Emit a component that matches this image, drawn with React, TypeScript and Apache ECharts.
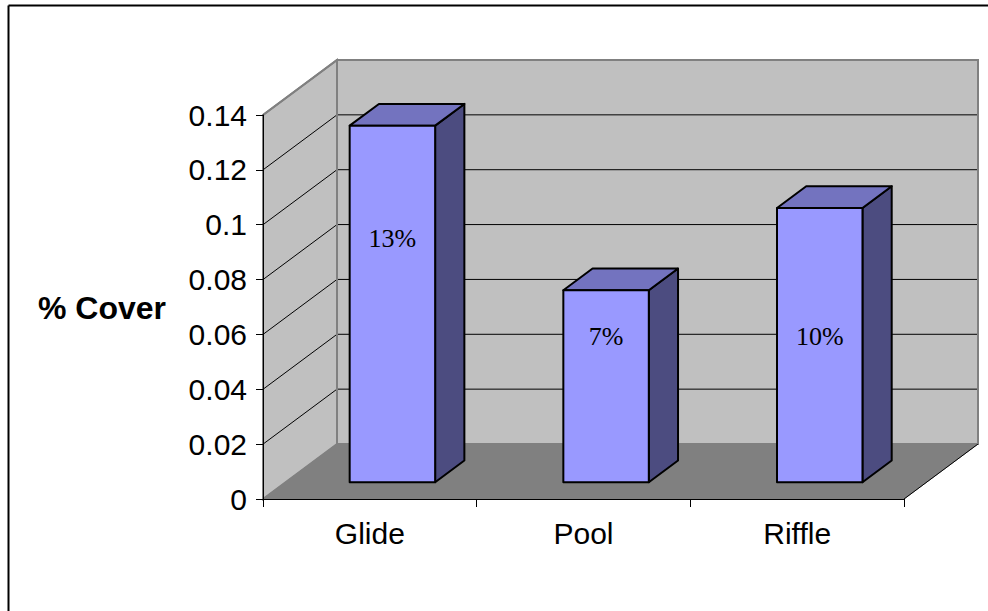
import React, { useEffect, useRef } from "react";
import * as echarts from "echarts";

// ---- data ----
const categories = ["Glide", "Pool", "Riffle"];
const coverValues = [0.13, 0.07, 0.1];
const yTicks = [0, 0.02, 0.04, 0.06, 0.08, 0.1, 0.12, 0.14];
// value level (on the bar's face) at which each data label is drawn
const labelLevels = [0.0887, 0.0533, 0.0533];

// ---- 3D look ----
const DX = 74; // depth offset of the back wall, px
const DY = -55;
const D0 = 0.305; // bar front depth fraction
const D1 = 0.7; // bar back depth fraction
const BAR_W = 0.4; // fraction of category width

const WALL = "#C0C0C0";
const FLOOR = "#808080";
const EDGE = "#808080";
const FRONT = "#9999FF";
const TOP = "#7373BF";
const SIDE = "#4C4C80";

export default function App() {
  const ref = useRef<HTMLDivElement>(null);

  useEffect(() => {
    if (!ref.current) return;
    const chart = echarts.init(ref.current, null, { renderer: "svg" });

    const option: any = {
      animation: false,
      backgroundColor: "#FFFFFF",
      grid: { left: 263, top: 115, width: 641, height: 384, containLabel: false },
      xAxis: {
        type: "category",
        data: categories,
        z: 5,
        axisLine: { show: true, lineStyle: { color: "#000", width: 1 } },
        axisTick: { show: true, length: 8, lineStyle: { color: "#000", width: 1 } },
        axisLabel: {
          color: "#000",
          fontSize: 30,
          fontFamily: "Arial, 'Liberation Sans', sans-serif",
          margin: 19,
        },
        splitLine: { show: false },
      },
      yAxis: {
        type: "value",
        min: 0,
        max: 0.14,
        interval: 0.02,
        z: 5,
        axisLine: { show: true, lineStyle: { color: "#000", width: 1 } },
        axisTick: { show: true, length: 7, lineStyle: { color: "#000", width: 1 } },
        axisLabel: {
          color: "#000",
          fontSize: 30,
          fontFamily: "Arial, 'Liberation Sans', sans-serif",
          margin: 16,
        },
        splitLine: { show: false },
      },
      graphic: [
        {
          type: "line",
          shape: { x1: 8.5, y1: 5.5, x2: 8.5, y2: 700 },
          style: { stroke: "#000", lineWidth: 2 },
        },
        {
          type: "line",
          shape: { x1: 8.5, y1: 5.5, x2: 1200, y2: 5.5 },
          style: { stroke: "#000", lineWidth: 2 },
        },
        {
          type: "text",
          x: 102,
          y: 308,
          style: {
            text: "% Cover",
            font: "bold 32px Arial, 'Liberation Sans', sans-serif",
            fill: "#000",
            textAlign: "center",
            textVerticalAlign: "middle",
          },
        },
      ],
      series: [
        {
          type: "custom",
          name: "walls",
          z: 1,
          silent: true,
          data: [0],
          renderItem: (params: any, api: any) => {
            const cs = params.coordSys;
            const x0 = cs.x;
            const x1 = cs.x + cs.width;
            const yT = cs.y;
            const yB = cs.y + cs.height;
            const children: any[] = [];
            // back wall
            children.push({
              type: "polygon",
              shape: {
                points: [
                  [x0 + DX, yT + DY],
                  [x1 + DX, yT + DY],
                  [x1 + DX, yB + DY],
                  [x0 + DX, yB + DY],
                ],
              },
              style: { fill: WALL, stroke: EDGE, lineWidth: 2 },
            });
            // left wall
            children.push({
              type: "polygon",
              shape: {
                points: [
                  [x0, yB],
                  [x0, yT],
                  [x0 + DX, yT + DY],
                  [x0 + DX, yB + DY],
                ],
              },
              style: { fill: WALL, stroke: EDGE, lineWidth: 2 },
            });
            // floor
            children.push({
              type: "polygon",
              shape: {
                points: [
                  [x0, yB],
                  [x0 + DX, yB + DY],
                  [x1 + DX, yB + DY],
                  [x1, yB],
                ],
              },
              style: { fill: FLOOR, stroke: FLOOR, lineWidth: 1 },
            });
            // floor right edge
            children.push({
              type: "line",
              shape: { x1: x1 + DX, y1: yB + DY, x2: x1, y2: yB },
              style: { stroke: "#000", lineWidth: 1 },
            });
            // grid lines
            yTicks.forEach((v) => {
              if (v <= 0 || v >= yTicks[yTicks.length - 1]) return;
              const y = api.coord([0, v])[1];
              children.push({
                type: "polyline",
                shape: {
                  points: [
                    [x0, y],
                    [x0 + DX, y + DY],
                    [x1 + DX, y + DY],
                  ],
                },
                style: { stroke: "#000", lineWidth: 1, fill: "none" },
              });
            });
            // redraw wall outer edges
            children.push({
              type: "polyline",
              shape: {
                points: [
                  [x0, yT],
                  [x0 + DX, yT + DY],
                  [x1 + DX, yT + DY],
                  [x1 + DX, yB + DY],
                ],
              },
              style: { stroke: EDGE, lineWidth: 2, fill: "none" },
            });
            children.push({
              type: "line",
              shape: { x1: x0 + DX, y1: yT + DY, x2: x0 + DX, y2: yB + DY },
              style: { stroke: EDGE, lineWidth: 2 },
            });
            return { type: "group", children };
          },
        },
        {
          type: "custom",
          name: "% Cover",
          z: 2,
          data: coverValues.map((v, i) => [i, v, labelLevels[i]]),
          renderItem: (params: any, api: any) => {
            const idx = api.value(0);
            const v = api.value(1);
            const lv = api.value(2);
            const bw = api.size([1, 0])[0];
            const [cx, yTop0] = api.coord([idx, v]);
            const yBot0 = api.coord([idx, 0])[1];
            const yLab0 = api.coord([idx, lv])[1];
            const w = bw * BAR_W;
            const ox = D0 * DX;
            const oy = D0 * DY;
            const ddx = (D1 - D0) * DX;
            const ddy = (D1 - D0) * DY;
            const xa = cx - w / 2 + ox;
            const xb = xa + w;
            const yt = yTop0 + oy;
            const yb = yBot0 + oy;
            const stroke = { stroke: "#000", lineWidth: 2, lineJoin: "round" };
            return {
              type: "group",
              children: [
                {
                  type: "polygon",
                  shape: {
                    points: [
                      [xb, yt],
                      [xb + ddx, yt + ddy],
                      [xb + ddx, yb + ddy],
                      [xb, yb],
                    ],
                  },
                  style: { fill: SIDE, ...stroke },
                },
                {
                  type: "polygon",
                  shape: {
                    points: [
                      [xa, yt],
                      [xb, yt],
                      [xb + ddx, yt + ddy],
                      [xa + ddx, yt + ddy],
                    ],
                  },
                  style: { fill: TOP, ...stroke },
                },
                {
                  type: "polygon",
                  shape: {
                    points: [
                      [xa, yt],
                      [xb, yt],
                      [xb, yb],
                      [xa, yb],
                    ],
                  },
                  style: { fill: FRONT, ...stroke },
                },
                {
                  type: "text",
                  x: (xa + xb) / 2,
                  y: yLab0 + oy,
                  style: {
                    text: Math.round(v * 100) + "%",
                    font: "26px 'Times New Roman', 'Liberation Serif', serif",
                    fill: "#000",
                    textAlign: "center",
                    textVerticalAlign: "middle",
                  },
                },
              ],
            };
          },
        },
      ],
    };

    chart.setOption(option);
    return () => chart.dispose();
  }, []);

  return (
    <div
      ref={ref}
      style={{ position: "absolute", left: 0, top: 0, width: 988, height: 611 }}
    />
  );
}
